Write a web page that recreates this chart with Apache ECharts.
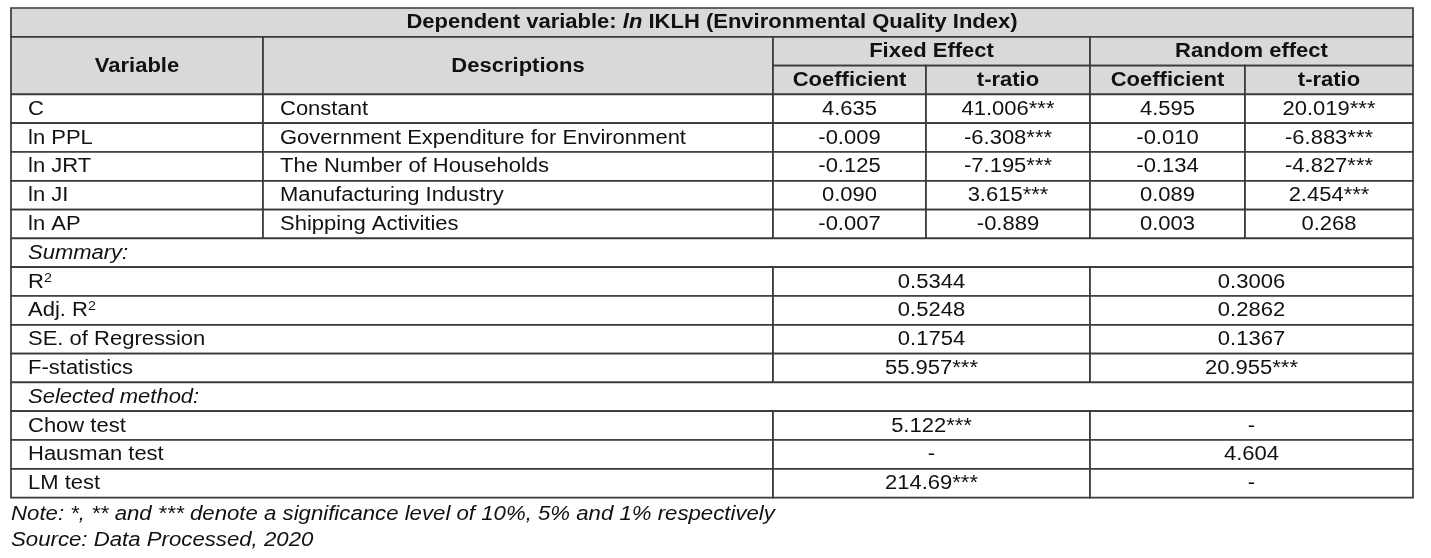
<!DOCTYPE html>
<html>
<head>
<meta charset="utf-8">
<script src="https://cdn.jsdelivr.net/npm/echarts@6/dist/echarts.min.js"></script>
<style>
html,body{margin:0;padding:0;background:#fff;}
#chart{width:1431px;height:558px;}
</style>
</head>
<body>
<div id="chart"></div>
<script>
// ---- data ----
const tableTitle = 'Dependent variable: {i|ln} IKLH (Environmental Quality Index)';
const headVariable = 'Variable';
const headDescriptions = 'Descriptions';
const effectGroups = ['Fixed Effect', 'Random effect'];
const subHeaders = ['Coefficient', 't-ratio'];
const variables = ['C', 'ln PPL', 'ln JRT', 'ln JI', 'ln AP'];
const descriptions = ['Constant', 'Government Expenditure for Environment', 'The Number of Households', 'Manufacturing Industry', 'Shipping Activities'];
const feCoef = ['4.635', '-0.009', '-0.125', '0.090', '-0.007'];
const feT = ['41.006***', '-6.308***', '-7.195***', '3.615***', '-0.889'];
const reCoef = ['4.595', '-0.010', '-0.134', '0.089', '0.003'];
const reT = ['20.019***', '-6.883***', '-4.827***', '2.454***', '0.268'];
const summaryTitle = 'Summary:';
const summaryLabels = ['R{sup|2}', 'Adj. R{sup|2}', 'SE. of Regression', 'F-statistics'];
const summaryFE = ['0.5344', '0.5248', '0.1754', '55.957***'];
const summaryRE = ['0.3006', '0.2862', '0.1367', '20.955***'];
const methodTitle = 'Selected method:';
const testLabels = ['Chow test', 'Hausman test', 'LM test'];
const testFE = ['5.122***', '-', '214.69***'];
const testRE = ['-', '4.604', '-'];
const noteLines = ['Note: *, ** and *** denote a significance level of 10%, 5% and 1% respectively', 'Source: Data Processed, 2020'];

// ---- layout ----
const colEdges = [0, 252, 762, 915, 1079, 1234, 1402];
const nRows = 17;
const FONT = '"Liberation Sans", Arial, sans-serif';
const FS = 20, SX = 1.1, PAD = 17;
const HEAD_FILL = '#d9d9d9', LINE = '#3a3a3a', TXT = '#111';

const cells = [];
function cell(c0, c1, r0, r1, text, opt) {
  cells.push(Object.assign({c0, c1, r0, r1, text, align: 'center', bold: false, italic: false, head: false}, opt || {}));
}
// header
cell(0, 6, 0, 1, tableTitle, {head: true, bold: true});
cell(0, 1, 1, 3, headVariable, {head: true, bold: true});
cell(1, 2, 1, 3, headDescriptions, {head: true, bold: true});
effectGroups.forEach((g, k) => {
  cell(2 + 2 * k, 4 + 2 * k, 1, 2, g, {head: true, bold: true});
  subHeaders.forEach((s, j) => cell(2 + 2 * k + j, 3 + 2 * k + j, 2, 3, s, {head: true, bold: true}));
});
// body
variables.forEach((v, i) => {
  const r = 3 + i;
  cell(0, 1, r, r + 1, v, {align: 'left'});
  cell(1, 2, r, r + 1, descriptions[i], {align: 'left'});
  cell(2, 3, r, r + 1, feCoef[i]);
  cell(3, 4, r, r + 1, feT[i]);
  cell(4, 5, r, r + 1, reCoef[i]);
  cell(5, 6, r, r + 1, reT[i]);
});
cell(0, 6, 8, 9, summaryTitle, {align: 'left', italic: true});
summaryLabels.forEach((l, i) => {
  const r = 9 + i;
  cell(0, 2, r, r + 1, l, {align: 'left'});
  cell(2, 4, r, r + 1, summaryFE[i]);
  cell(4, 6, r, r + 1, summaryRE[i]);
});
cell(0, 6, 13, 14, methodTitle, {align: 'left', italic: true});
testLabels.forEach((l, i) => {
  const r = 14 + i;
  cell(0, 2, r, r + 1, l, {align: 'left'});
  cell(2, 4, r, r + 1, testFE[i]);
  cell(4, 6, r, r + 1, testRE[i]);
});

const seriesData = cells.map(c => [colEdges[c.c0], colEdges[c.c1], c.r0, c.r1]);

function renderItem(params, api) {
  const c = cells[params.dataIndex];
  const p0 = api.coord([api.value(0), api.value(2)]);
  const p1 = api.coord([api.value(1), api.value(3)]);
  const x = Math.min(p0[0], p1[0]), y = Math.min(p0[1], p1[1]);
  const w = Math.abs(p1[0] - p0[0]), h = Math.abs(p1[1] - p0[1]);
  const tx = c.align === 'left' ? x + PAD : x + w / 2;
  return {
    type: 'group',
    children: [
      {type: 'rect', shape: {x: x, y: y, width: w, height: h},
        style: {fill: c.head ? HEAD_FILL : '#fff', stroke: LINE, lineWidth: 1.7}},
      {type: 'text', x: tx, y: y + h / 2 + 0.5, scaleX: SX,
        style: {
          text: c.text, fill: TXT, align: c.align, verticalAlign: 'middle',
          fontFamily: FONT, fontSize: FS,
          fontWeight: c.bold ? 'bold' : 'normal', fontStyle: c.italic ? 'italic' : 'normal',
          rich: {
            i: {fontFamily: FONT, fontSize: FS, fontWeight: 'bold', fontStyle: 'italic', fill: TXT},
            sup: {fontFamily: FONT, fontSize: 13, fill: TXT, verticalAlign: 'top', padding: [0, 0, 8, 0]}
          }
        }}
    ]
  };
}

const chart = echarts.init(document.getElementById('chart'), null, {renderer: 'canvas'});
chart.setOption({
  animation: false,
  backgroundColor: '#fff',
  grid: {left: 11, top: 8, width: 1402, height: 489.6},
  xAxis: {type: 'value', min: 0, max: colEdges[colEdges.length - 1], show: false},
  yAxis: {type: 'value', min: 0, max: nRows, inverse: true, show: false},
  series: [{type: 'custom', renderItem: renderItem, data: seriesData, clip: false}],
  graphic: noteLines.map((t, i) => ({
    type: 'text', left: 11, top: 504 + i * 26, scaleX: 1.11,
    style: {text: t, fill: TXT, font: 'italic 20px ' + FONT}
  }))
});
</script>
</body>
</html>
